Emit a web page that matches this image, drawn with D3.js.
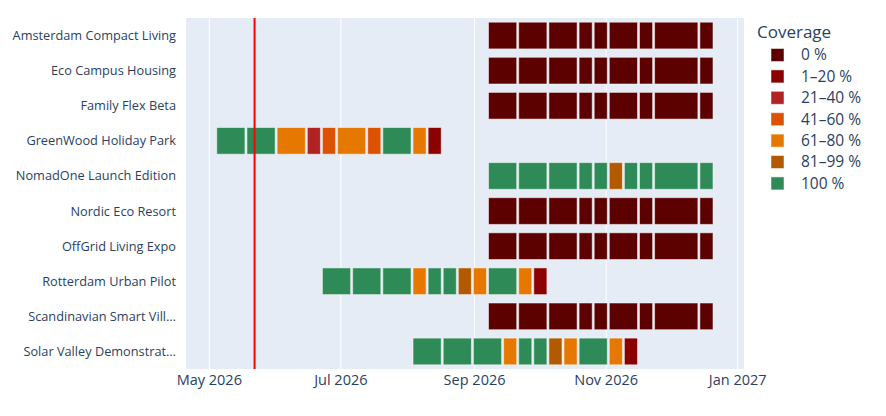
<!DOCTYPE html>
<html>
<head>
<meta charset="utf-8">
<script src="https://d3js.org/d3.v7.min.js"></script>
<style>
  body { margin: 0; background: #fff; }
  text { font-family: "Open Sans", "Noto Sans", Arial, sans-serif; fill: #2a3f5f; }
</style>
</head>
<body>
<div id="chart"></div>
<script>
// rows top to bottom
var projects = ["Amsterdam Compact Living", "Eco Campus Housing", "Family Flex Beta",
  "GreenWood Holiday Park", "NomadOne Launch Edition", "Nordic Eco Resort",
  "OffGrid Living Expo", "Rotterdam Urban Pilot", "Scandinavian Smart Vill\u2026",
  "Solar Valley Demonstrat\u2026"];

var coverageBins = ["0 %", "1\u201320 %", "21\u201340 %", "41\u201360 %", "61\u201380 %", "81\u201399 %", "100 %"];
var binColors = ["#5c0000", "#8b0000", "#b22222", "#dc5200", "#e67800", "#b35a00", "#2e8b57"];

// sprint boundaries (last date = end of last sprint)
var lateSprints = ["2026-09-07", "2026-09-21", "2026-10-05", "2026-10-19", "2026-10-26",
  "2026-11-02", "2026-11-16", "2026-11-23", "2026-12-14", "2026-12-21"];
var lateCoverage = [0, 0, 0, 0, 0, 0, 0, 0, 0];

var nomadSprints = ["2026-09-07", "2026-09-21", "2026-10-05", "2026-10-19", "2026-10-26",
  "2026-11-02", "2026-11-09", "2026-11-16", "2026-11-23", "2026-12-14", "2026-12-21"];
var nomadCoverage = [6, 6, 6, 6, 6, 5, 6, 6, 6, 6];

var greenwoodSprints = ["2026-05-04", "2026-05-18", "2026-06-01", "2026-06-15", "2026-06-22",
  "2026-06-29", "2026-07-13", "2026-07-20", "2026-08-03", "2026-08-10", "2026-08-17"];
var greenwoodCoverage = [6, 6, 4, 2, 3, 4, 3, 6, 4, 1];

var rotterdamSprints = ["2026-06-22", "2026-07-06", "2026-07-20", "2026-08-03", "2026-08-10",
  "2026-08-17", "2026-08-24", "2026-08-31", "2026-09-07", "2026-09-21", "2026-09-28", "2026-10-05"];
var rotterdamCoverage = [6, 6, 6, 4, 6, 6, 5, 4, 6, 4, 1];

var solarSprints = ["2026-08-03", "2026-08-17", "2026-08-31", "2026-09-14", "2026-09-21",
  "2026-09-28", "2026-10-05", "2026-10-12", "2026-10-19", "2026-11-02", "2026-11-09", "2026-11-16"];
var solarCoverage = [6, 6, 6, 4, 6, 6, 5, 4, 6, 4, 1];

var rowSprints = [lateSprints, lateSprints, lateSprints, greenwoodSprints, nomadSprints,
  lateSprints, lateSprints, rotterdamSprints, lateSprints, solarSprints];
var rowCoverage = [lateCoverage, lateCoverage, lateCoverage, greenwoodCoverage, nomadCoverage,
  lateCoverage, lateCoverage, rotterdamCoverage, lateCoverage, solarCoverage];

var todayLine = "2026-05-22";
var xRange = ["2026-04-20T05:00", "2027-01-03T22:00"];

function gantt() {
  var parse = d3.utcParse("%Y-%m-%d");
  var parseT = d3.utcParse("%Y-%m-%dT%H:%M");

  var segments = [];
  projects.forEach(function (p, i) {
    var s = rowSprints[i];
    rowCoverage[i].forEach(function (c, j) {
      segments.push({ project: p, start: parse(s[j]), end: parse(s[j + 1]), bin: c });
    });
  });

  var W = 886, H = 416;
  var pl = 186, pr = 744, pt = 18, pb = 369;

  var svg = d3.select("#chart").append("svg").attr("width", W).attr("height", H);

  var x = d3.scaleUtc().domain(xRange.map(parseT)).range([pl, pr]);
  var y = d3.scaleBand().domain(projects).range([pt, pb]).paddingInner(0.24).paddingOuter(0.12);

  svg.append("rect").attr("x", pl).attr("y", pt)
    .attr("width", pr - pl).attr("height", pb - pt).attr("fill", "#e5ecf6");

  var ticks = d3.utcMonth.every(2).range(x.domain()[0], x.domain()[1]);

  svg.append("g").selectAll("line").data(ticks).enter().append("line")
    .attr("x1", function (d) { return x(d); }).attr("x2", function (d) { return x(d); })
    .attr("y1", pt).attr("y2", pb)
    .attr("stroke", "#fff").attr("stroke-width", 1);

  svg.append("g").selectAll("text").data(ticks).enter().append("text")
    .attr("x", function (d) { return x(d); })
    .attr("y", pb + 16)
    .attr("text-anchor", "middle")
    .style("font-size", "14.5px")
    .text(d3.utcFormat("%b %Y"));

  svg.append("g").selectAll("text").data(projects).enter().append("text")
    .attr("x", pl - 10)
    .attr("y", function (d) { return y(d) + y.bandwidth() / 2; })
    .attr("dy", "0.35em")
    .attr("text-anchor", "end")
    .style("font-size", "12.75px")
    .text(function (d) { return d; });

  // bars
  svg.append("g").selectAll("rect").data(segments).enter().append("rect")
    .attr("x", function (d) { return x(d.start) + 1; })
    .attr("y", function (d) { return y(d.project); })
    .attr("width", function (d) { return x(d.end) - x(d.start) - 2; })
    .attr("height", y.bandwidth())
    .attr("fill", function (d) { return binColors[d.bin]; })
    .attr("stroke", "rgba(255,255,255,0.5)")
    .attr("stroke-width", 1);

  // today marker
  svg.append("line")
    .attr("x1", x(parse(todayLine))).attr("x2", x(parse(todayLine)))
    .attr("y1", pt).attr("y2", pb)
    .attr("stroke", "red").attr("stroke-width", 2);

  // legend
  var lg = svg.append("g").attr("transform", "translate(757,0)");
  lg.append("text").attr("x", 0).attr("y", 38).style("font-size", "17px").text("Coverage");
  var item = lg.selectAll("g.item").data(coverageBins).enter().append("g")
    .attr("class", "item")
    .attr("transform", function (d, i) { return "translate(0," + (55 + i * 21.4) + ")"; });
  item.append("rect").attr("x", 14).attr("y", -6.5).attr("width", 13).attr("height", 13)
    .attr("fill", function (d, i) { return binColors[i]; })
    .attr("stroke", "rgba(255,255,255,0.5)").attr("stroke-width", 1);
  item.append("text").attr("x", 44).attr("y", 0).attr("dy", "0.35em")
    .style("font-size", "15.5px").text(function (d) { return d; });
}

gantt();
</script>
</body>
</html>
